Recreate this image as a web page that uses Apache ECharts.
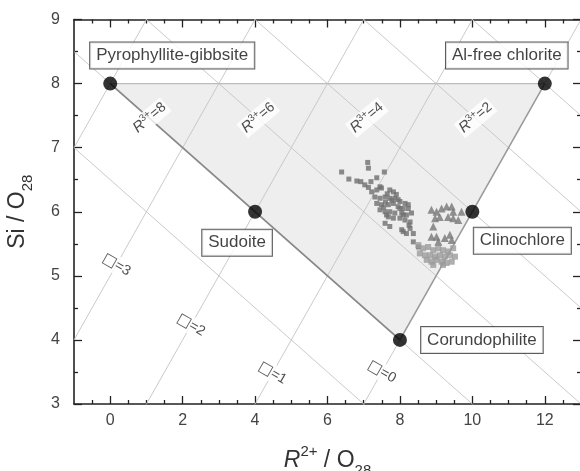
<!DOCTYPE html>
<html>
<head>
<meta charset="utf-8">
<script src="https://cdn.jsdelivr.net/npm/echarts@6/dist/echarts.min.js"></script>
<style>
html, body { margin: 0; padding: 0; background: #fff; }
#chart { width: 580px; height: 471px; }
</style>
</head>
<body>
<div id="chart"></div>
<script>
// end-members of the chlorite diagram
const memberNames = ['Pyrophyllite-gibbsite', 'Al-free chlorite', 'Sudoite', 'Clinochlore', 'Corundophilite'];
const memberR2 = [0, 12, 4, 10, 8];
const memberSi = [8, 8, 6, 6, 4];

// iso-lines: R3+ = const (x + 2y = 28 - 1.5 R3+) and vacancy = const (y = x - 4 + 3 v)
const r3Values = [10, 8, 6, 4, 2, 0, -2];
const r3Labelled = [8, 6, 4, 2];
const vacValues = [0, 1, 2, 3, 4];
const vacLabelled = [0, 1, 2, 3];

// analysed chlorites
const sqR2 = [7.11, 7.13, 6.39, 6.59, 7.57, 7.36, 6.81, 6.92, 7.03, 7.13, 7.20, 7.45,
  7.22, 7.36, 7.49, 7.72, 7.82, 7.31, 7.45, 7.59, 7.72, 7.86, 8.00, 8.14,
  7.36, 7.49, 7.68, 7.82, 7.95, 8.09, 8.23, 7.45, 7.59, 7.72, 7.86, 8.05, 8.18,
  7.68, 7.82, 8.00, 8.14, 7.59, 7.72, 8.09, 8.25, 8.23, 8.32, 8.09, 8.28, 8.05,
  8.28, 8.37, 8.18, 8.37, 8.51, 7.60, 7.90, 7.55, 8.00, 7.65, 7.78, 7.95, 7.63];
const sqSi = [6.77, 6.68, 6.62, 6.51, 6.62, 6.53, 6.48, 6.47, 6.42, 6.38, 6.47, 6.39,
  6.31, 6.34, 6.37, 6.34, 6.31, 6.23, 6.21, 6.23, 6.21, 6.21, 6.16, 6.13,
  6.13, 6.11, 6.11, 6.13, 6.08, 6.05, 6.05, 6.03, 6.00, 6.00, 5.98, 5.98, 5.95,
  5.92, 5.90, 5.90, 5.87, 5.82, 5.77, 5.69, 5.79, 6.11, 5.98, 5.95, 5.84, 5.72,
  5.74, 5.66, 5.66, 5.53, 5.45, 6.15, 6.27, 6.07, 6.05, 6.28, 6.18, 6.19, 5.95];
const ltR2 = [8.51, 8.64, 8.78, 8.92, 9.06, 9.19, 9.33, 9.47, 8.55, 8.69, 8.83, 8.97,
  9.10, 9.24, 9.38, 9.52, 8.74, 8.87, 9.01, 9.15, 9.29, 9.43, 8.92, 9.19];
const ltSi = [5.48, 5.43, 5.45, 5.40, 5.43, 5.40, 5.38, 5.43, 5.35, 5.32, 5.32, 5.30,
  5.32, 5.30, 5.32, 5.30, 5.25, 5.22, 5.25, 5.22, 5.20, 5.22, 5.17, 5.17];
const trR2 = [8.87, 9.01, 9.15, 9.29, 9.43, 9.47, 9.70, 8.97, 9.10, 9.33, 9.47, 9.61,
  8.92, 8.87, 9.01, 9.06, 9.24, 9.43, 9.38];
const trSi = [6.03, 6.00, 6.05, 6.08, 6.08, 6.00, 6.00, 5.90, 5.92, 5.92, 5.90, 5.87,
  5.77, 5.61, 5.61, 5.53, 5.59, 5.56, 5.64];

// tick values
const xMajorTicks = [0, 2, 4, 6, 8, 10, 12];
const xMinorTicks = [-0.5, 0.5, 1, 1.5, 2.5, 3, 3.5, 4.5, 5, 5.5, 6.5, 7, 7.5,
  8.5, 9, 9.5, 10.5, 11, 11.5, 12.5];

const FONT = '"Liberation Sans", Arial, sans-serif';
const AXIS_COLOR = '#222';
const X_MIN = -1, X_MAX = 13;

const myChart = echarts.init(document.getElementById('chart'));

function zip(xs, ys) {
    return xs.map(function (x, i) { return [x, ys[i]]; });
}

function r3Line(r) {
    const c = 28 - 1.5 * r;
    return [[X_MIN, (c - X_MIN) / 2], [X_MAX, (c - X_MAX) / 2]];
}

function vacLine(v) {
    return [[X_MIN, X_MIN - 4 + 3 * v], [X_MAX, X_MAX - 4 + 3 * v]];
}

function lineSeries(points, color, width, z) {
    return {
        type: 'line', data: points, symbol: 'none', clip: true, silent: true,
        lineStyle: { color: color, width: width }, z: z, animation: false
    };
}

// where the iso-line labels sit (Si value along each line)
const r3LabelSi = 7.42;
const vacLabelSi = { 0: 3.5, 1: 3.48, 2: 4.23, 3: 5.17 };

// end-member label box offsets (px)
const memberLabelOffset = [[62, -28], [-38, -28], [-18, 31], [50, 29], [82, 0]];

let series = [];

// triangle of chlorite compositions
series.push({
    type: 'custom', silent: true, z: 1, animation: false,
    data: [[memberR2[0], memberSi[0]]],
    renderItem: function (params, api) {
        const pts = [0, 1, 4].map(function (i) { return api.coord([memberR2[i], memberSi[i]]); });
        return { type: 'polygon', shape: { points: pts }, style: { fill: '#eeeeee' } };
    }
});

r3Values.forEach(function (r) { series.push(lineSeries(r3Line(r), '#c4c4c4', 0.9, 2)); });
vacValues.forEach(function (v) { series.push(lineSeries(vacLine(v), '#c4c4c4', 0.9, 2)); });

// triangle edges
series.push(lineSeries([[memberR2[0], memberSi[0]], [memberR2[1], memberSi[1]]], '#bdbdbd', 1.3, 3));
series.push(lineSeries([[memberR2[0], memberSi[0]], [memberR2[4], memberSi[4]]], '#888888', 1.8, 3));
series.push(lineSeries([[memberR2[4], memberSi[4]], [memberR2[1], memberSi[1]]], '#9a9a9a', 1.5, 3));

// iso-line labels
const isoLabels = [];
r3Labelled.forEach(function (r) {
    const c = 28 - 1.5 * r;
    isoLabels.push({
        value: [c - 2 * r3LabelSi, r3LabelSi],
        label: { formatter: '{i|R}{s|3+}{n|=' + r + '}', rotate: 40, offset: [0, -4] }
    });
});
vacLabelled.forEach(function (v) {
    const si = vacLabelSi[v];
    isoLabels.push({
        value: [si + 4 - 3 * v, si],
        label: { formatter: '{b|\u25A1}{n|=' + v + '}', rotate: -30 }
    });
});
series.push({
    type: 'scatter', data: isoLabels, symbolSize: 1, silent: true, z: 4, animation: false,
    itemStyle: { color: 'rgba(0,0,0,0)' },
    label: {
        show: true, position: 'inside', backgroundColor: '#fff', padding: [0, 2],
        fontFamily: FONT, color: '#222',
        rich: {
            i: { fontStyle: 'italic', fontSize: 15, fontFamily: FONT, color: '#222', lineHeight: 18 },
            s: { fontSize: 10, fontFamily: FONT, color: '#222', verticalAlign: 'top', lineHeight: 10 },
            n: { fontSize: 14, fontFamily: FONT, color: '#222', lineHeight: 18 },
            b: { fontSize: 15, fontFamily: '"DejaVu Sans"', color: '#333', lineHeight: 18 }
        }
    }
});

// data points
series.push({
    type: 'scatter', data: zip(sqR2, sqSi), symbol: 'rect', symbolSize: 5, z: 5,
    itemStyle: { color: '#6f6f6f' }, animation: false
});
series.push({
    type: 'scatter', data: zip(ltR2, ltSi), symbol: 'rect', symbolSize: 6, z: 5,
    itemStyle: { color: '#9b9b9b' }, animation: false
});
series.push({
    type: 'scatter', data: zip(trR2, trSi), symbol: 'triangle', symbolSize: [8, 8], z: 6,
    itemStyle: { color: '#777777' }, animation: false
});

// end-members with boxed names
series.push({
    type: 'scatter', symbol: 'circle', symbolSize: 14, z: 8, animation: false,
    itemStyle: { color: '#000' },
    data: memberNames.map(function (name, i) {
        return {
            value: [memberR2[i], memberSi[i]], name: name,
            label: { offset: memberLabelOffset[i] }
        };
    }),
    label: {
        show: true, position: 'inside', formatter: '{b}',
        fontFamily: FONT, fontSize: 17, color: '#111',
        backgroundColor: '#fff', borderColor: '#333', borderWidth: 1,
        padding: [5, 6, 4, 6]
    }
});

function xAxisDef(pos, ticks, len, main) {
    return {
        type: 'value', min: X_MIN, max: X_MAX, position: pos,
        axisLine: { show: main, onZero: false, lineStyle: { color: AXIS_COLOR, width: 1.6 } },
        axisTick: { show: true, inside: true, length: len, customValues: ticks, lineStyle: { color: AXIS_COLOR, width: 1.3 } },
        axisLabel: { show: false },
        splitLine: { show: false }
    };
}

function yAxisDef(pos) {
    return {
        type: 'value', min: 3, max: 9, interval: 1, position: pos,
        axisLine: { show: true, onZero: false, lineStyle: { color: AXIS_COLOR, width: 1.6 } },
        axisTick: { show: true, inside: true, length: 8, lineStyle: { color: AXIS_COLOR, width: 1.3 } },
        minorTick: { show: true, splitNumber: 2, length: 4, lineStyle: { color: AXIS_COLOR, width: 1.3 } },
        axisLabel: { show: false },
        splitLine: { show: false }
    };
}

const xMain = xAxisDef('bottom', xMajorTicks, 8, true);
xMain.axisLabel = { show: true, customValues: xMajorTicks, color: '#444', fontSize: 16, fontFamily: FONT, margin: 9 };
xMain.name = '{i|R}{sup|2+}{n| / O}{sub|28}';
xMain.nameLocation = 'middle';
xMain.nameGap = 40;
xMain.nameTextStyle = {
    rich: {
        i: { fontStyle: 'italic', fontSize: 23, fontFamily: FONT, color: '#333', lineHeight: 34 },
        sup: { fontSize: 15, fontFamily: FONT, color: '#333', verticalAlign: 'top', lineHeight: 14 },
        n: { fontSize: 23, fontFamily: FONT, color: '#333', lineHeight: 34 },
        sub: { fontSize: 15, fontFamily: FONT, color: '#333', verticalAlign: 'bottom', lineHeight: 14 }
    }
};

const yMain = yAxisDef('left');
yMain.axisLabel = { show: true, color: '#444', fontSize: 16, fontFamily: FONT, margin: 14 };
yMain.name = '{n|Si / O}{sub|28}';
yMain.nameLocation = 'middle';
yMain.nameGap = 39;
yMain.nameTextStyle = {
    rich: {
        n: { fontSize: 23, fontFamily: FONT, color: '#333', lineHeight: 34 },
        sub: { fontSize: 15, fontFamily: FONT, color: '#333', verticalAlign: 'bottom', lineHeight: 14 }
    }
};

const option = {
    animation: false,
    backgroundColor: '#fff',
    grid: { left: 74, right: -1, top: 19.5, bottom: 67, containLabel: false, outerBoundsMode: 'none' },
    xAxis: [xMain, xAxisDef('bottom', xMinorTicks, 4, false),
        xAxisDef('top', xMajorTicks, 8, true), xAxisDef('top', xMinorTicks, 4, false)],
    yAxis: [yMain, yAxisDef('right')],
    series: series
};

myChart.setOption(option);
</script>
</body>
</html>
